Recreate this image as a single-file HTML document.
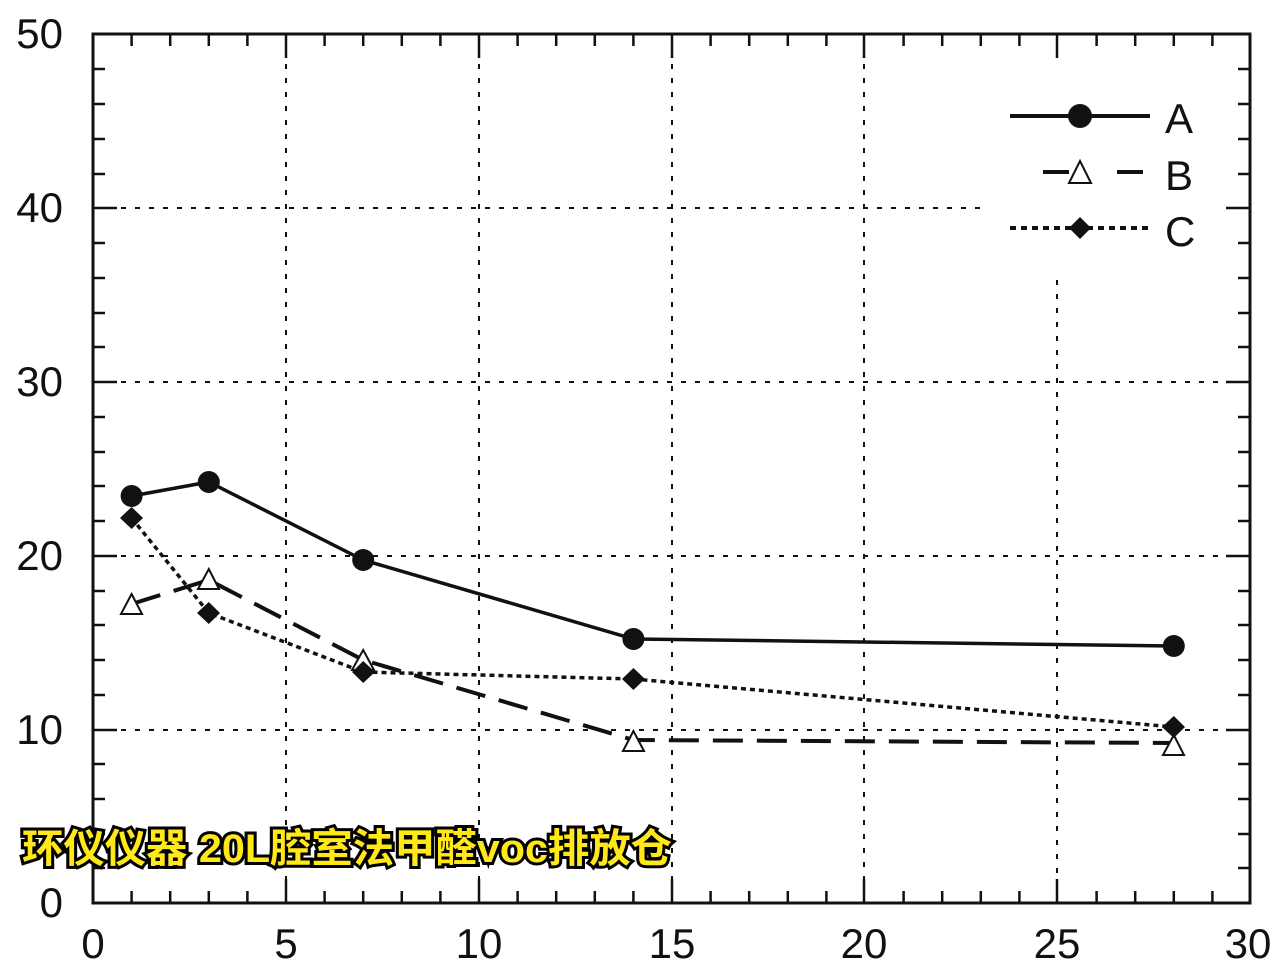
<!DOCTYPE html>
<html><head><meta charset="utf-8"><style>
html,body{margin:0;padding:0;background:#fff}
svg{display:block}
</style></head><body>
<svg width="1280" height="974" xmlns="http://www.w3.org/2000/svg" font-family="Liberation Sans, sans-serif">
<rect width="1280" height="974" fill="#fff"/>
<g stroke="#111" stroke-width="2" stroke-dasharray="5,9">
<line x1="286" y1="36" x2="286" y2="903"/>
<line x1="479" y1="36" x2="479" y2="903"/>
<line x1="672" y1="36" x2="672" y2="903"/>
<line x1="864" y1="36" x2="864" y2="903"/>
<line x1="1057" y1="280" x2="1057" y2="903"/>
<line x1="93" y1="208" x2="985" y2="208"/>
<line x1="93" y1="382" x2="1250" y2="382"/>
<line x1="93" y1="556" x2="1250" y2="556"/>
<line x1="93" y1="730" x2="1250" y2="730"/>
</g>
<rect x="93" y="34" width="1157" height="869" fill="none" stroke="#111" stroke-width="3"/>
<g stroke="#111" stroke-width="2.5">
<path d="M131.6 903v-12M170.2 903v-12M208.8 903v-12M247.4 903v-12M286 903v-24M324.6 903v-12M363.2 903v-12M401.8 903v-12M440.4 903v-12M479 903v-24M517.6 903v-12M556.2 903v-12M594.8 903v-12M633.4 903v-12M672 903v-24M710.6 903v-12M749.2 903v-12M787.8 903v-12M826.4 903v-12M864 903v-24M903.6 903v-12M942.2 903v-12M980.8 903v-12M1019.4 903v-12M1057 903v-24M1096.6 903v-12M1135.2 903v-12M1173.8 903v-12M1212.4 903v-12"/>
<path d="M131.6 34v12M170.2 34v12M208.8 34v12M247.4 34v12M286 34v24M324.6 34v12M363.2 34v12M401.8 34v12M440.4 34v12M479 34v24M517.6 34v12M556.2 34v12M594.8 34v12M633.4 34v12M672 34v24M710.6 34v12M749.2 34v12M787.8 34v12M826.4 34v12M864 34v24M903.6 34v12M942.2 34v12M980.8 34v12M1019.4 34v12M1057 34v24M1096.6 34v12M1135.2 34v12M1173.8 34v12M1212.4 34v12"/>
<path d="M93 868h12M93 834h12M93 799h12M93 764h12M93 730h24M93 695h12M93 660h12M93 625h12M93 591h12M93 556h24M93 521h12M93 486h12M93 452h12M93 417h12M93 382h24M93 347h12M93 313h12M93 278h12M93 243h12M93 208h24M93 174h12M93 139h12M93 104h12M93 69h12"/>
<path d="M1250 868h-12M1250 834h-12M1250 799h-12M1250 764h-12M1250 730h-24M1250 695h-12M1250 660h-12M1250 625h-12M1250 591h-12M1250 556h-24M1250 521h-12M1250 486h-12M1250 452h-12M1250 417h-12M1250 382h-24M1250 347h-12M1250 313h-12M1250 278h-12M1250 243h-12M1250 208h-24M1250 174h-12M1250 139h-12M1250 104h-12M1250 69h-12"/>
</g>
<g font-size="42" fill="#111">
<g text-anchor="end"><text x="63" y="917">0</text><text x="63" y="744">10</text><text x="63" y="570">20</text><text x="63" y="396">30</text><text x="63" y="222">40</text><text x="63" y="48">50</text></g>
<g text-anchor="middle"><text x="93" y="958">0</text><text x="286" y="958">5</text><text x="479" y="958">10</text><text x="672" y="958">15</text><text x="864" y="958">20</text><text x="1057" y="958">25</text><text x="1248" y="958">30</text></g>
</g>
<polyline points="131.6,604 208.8,580 363.2,660 633.4,740 1173.8,743" fill="none" stroke="#111" stroke-width="4" stroke-dasharray="30,14"/>
<polyline points="131.6,518 208.8,613 363.2,672 633.4,679 1173.8,727" fill="none" stroke="#111" stroke-width="3.5" stroke-dasharray="5,4"/>
<polyline points="131.6,496 208.8,482 363.2,560 633.4,639 1173.8,646" fill="none" stroke="#111" stroke-width="3.5"/>
<g fill="#111"><circle cx="131.6" cy="496" r="11"/><circle cx="208.8" cy="482" r="11"/><circle cx="363.2" cy="560" r="11"/><circle cx="633.4" cy="639" r="11"/><circle cx="1173.8" cy="646" r="11"/></g>
<g fill="#fff" stroke="#111" stroke-width="2">
<polygon points="131.6,594 142,614 121,614"/><polygon points="208.8,569 219,589 198,589"/><polygon points="363.2,650 374,670 352,670"/><polygon points="633.4,731 644,751 623,751"/><polygon points="1173.8,735 1184,755 1163,755"/>
</g>
<g fill="#111"><polygon points="131.6,507 143,518 131.6,529 120,518"/><polygon points="208.8,602 220,613 208.8,624 197,613"/><polygon points="363.2,661 375,672 363.2,683 352,672"/><polygon points="633.4,668 645,679 633.4,690 622,679"/><polygon points="1173.8,716 1185,727 1173.8,738 1162,727"/></g>
<rect x="985" y="85" width="230" height="175" fill="#fff"/>
<line x1="1010" y1="116" x2="1150" y2="116" stroke="#111" stroke-width="4"/>
<circle cx="1080" cy="116" r="12" fill="#111"/>
<line x1="1043" y1="172" x2="1143" y2="172" stroke="#111" stroke-width="4" stroke-dasharray="26,48"/>
<polygon points="1080,161 1091,183 1069,183" fill="#fff" stroke="#111" stroke-width="2"/>
<line x1="1010" y1="228" x2="1150" y2="228" stroke="#111" stroke-width="4" stroke-dasharray="6,5"/>
<polygon points="1080,217 1091,228 1080,239 1069,228" fill="#111"/>
<g font-size="42" fill="#111"><text x="1165" y="133">A</text><text x="1165" y="190">B</text><text x="1165" y="246">C</text></g>
<text x="22" y="862" font-size="40" font-weight="bold" fill="#ffe81a" stroke="#000" stroke-width="6" paint-order="stroke" font-family="Liberation Sans, Noto Sans CJK SC, sans-serif" textLength="650" lengthAdjust="spacingAndGlyphs">环仪仪器 20L腔室法甲醛voc排放仓</text>
</svg>
</body></html>
